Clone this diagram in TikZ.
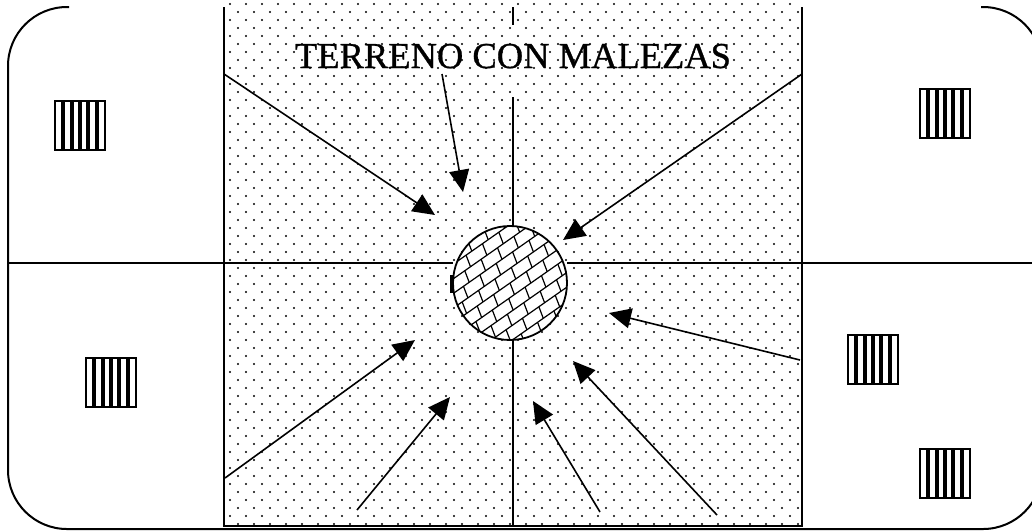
\documentclass[tikz,border=0pt]{standalone}
\usepackage{fontspec}
\setmainfont{Liberation Serif}
\newfontfamily\labelfont[FakeBold=0.8]{Liberation Serif}
\usetikzlibrary{arrows.meta}
\begin{document}
\begin{tikzpicture}[x=1pt,y=-1pt,
  outline/.style={line width=2pt,black},
  divider/.style={line width=1.6pt,black},
  fieldedge/.style={line width=1.9pt,black},
  pointer/.style={line width=1.6pt,-{Triangle[length=22pt,width=20pt]}},
  hatch/.style={line width=1.2pt},
  stripes/.pic={
    \foreach \i in {1,...,5} \draw[line width=4pt] ({\i*8.33},0) -- ({\i*8.33},49);
    \draw[line width=2.6pt] (0,0) rectangle (50,49);
  }]
\useasboundingbox (0,0) rectangle (1032,531);
\clip (0,0) rectangle (1032,531);
% dotted field
\foreach \r in {0,...,65}{
  \pgfmathsetmacro{\yy}{4+\r*8}
  \pgfmathsetmacro{\off}{mod(\r,2)*8}
  \foreach \c in {0,...,36}{
    \pgfmathsetmacro{\xx}{230+\off+\c*16}
    \ifdim \xx pt<800pt \fill (\xx,\yy) circle (1.1);\fi
  }
}
% outer rounded border (top edge not drawn)
\draw[outline,rounded corners=59pt] (69,7) -- (8,7) -- (8,529) -- (1042,529) -- (1042,7) -- (981,7);
% field border
\draw[fieldedge] (224,7) -- (224,526) -- (802,526) -- (802,7);
% circle
\coordinate (C) at (510,283);
\fill[white] (C) circle (57);
\begin{scope}
  \clip (C) circle (57);
  \foreach \k in {-7,...,7}{
    \draw[hatch] ({510+\k*12*0.574-80*0.819},{283+\k*12*0.819+80*0.574}) -- ({510+\k*12*0.574+80*0.819},{283+\k*12*0.819-80*0.574});
    \pgfmathsetmacro{\sh}{mod(\k+20,2)*10}
    \foreach \j in {-5,...,5}{
      \pgfmathsetmacro{\t}{\j*20+\sh}
      \draw[hatch] ({510+\k*12*0.574+\t*0.819},{283+\k*12*0.819-\t*0.574}) -- ({510+(\k+1)*12*0.574+(\t-3)*0.819},{283+(\k+1)*12*0.819-(\t-3)*0.574});
    }
  }
\end{scope}
\draw[line width=1.8pt] (C) circle (57);
\draw[line width=3.5pt] (452,275) -- (452,293);
% axes
\draw[divider] (8,263) -- (453,263);
\draw[divider] (567,263) -- (1042,263);
\draw[divider] (513,7) -- (513,25);
\draw[divider] (513,97) -- (513,226);
\draw[divider] (513,340) -- (513,526);
% label
\node[inner sep=0pt,anchor=base] (lab) at (513,68) {\labelfont\fontsize{36.5}{36.5}\selectfont TERRENO CON MALEZAS};
% striped boxes
\pic at (55,101) {stripes};
\pic at (920,89) {stripes};
\pic at (86,358) {stripes};
\pic at (848,335) {stripes};
\pic at (920,449) {stripes};
% arrows
\coordinate (s1) at (224,74);  \coordinate (t1) at (435,215);
\coordinate (s2) at (442,74);  \coordinate (t2) at (463,192);
\coordinate (s3) at (802,74);  \coordinate (t3) at (563,240);
\coordinate (s4) at (800,360); \coordinate (t4) at (609,313);
\coordinate (s5) at (225,478); \coordinate (t5) at (415,340);
\coordinate (s6) at (357,510); \coordinate (t6) at (450,397);
\coordinate (s7) at (600,512); \coordinate (t7) at (533,401);
\coordinate (s8) at (717,515); \coordinate (t8) at (573,361);
\foreach \n in {1,...,8} \draw[pointer] (s\n) -- (t\n);
\end{tikzpicture}
\end{document}
